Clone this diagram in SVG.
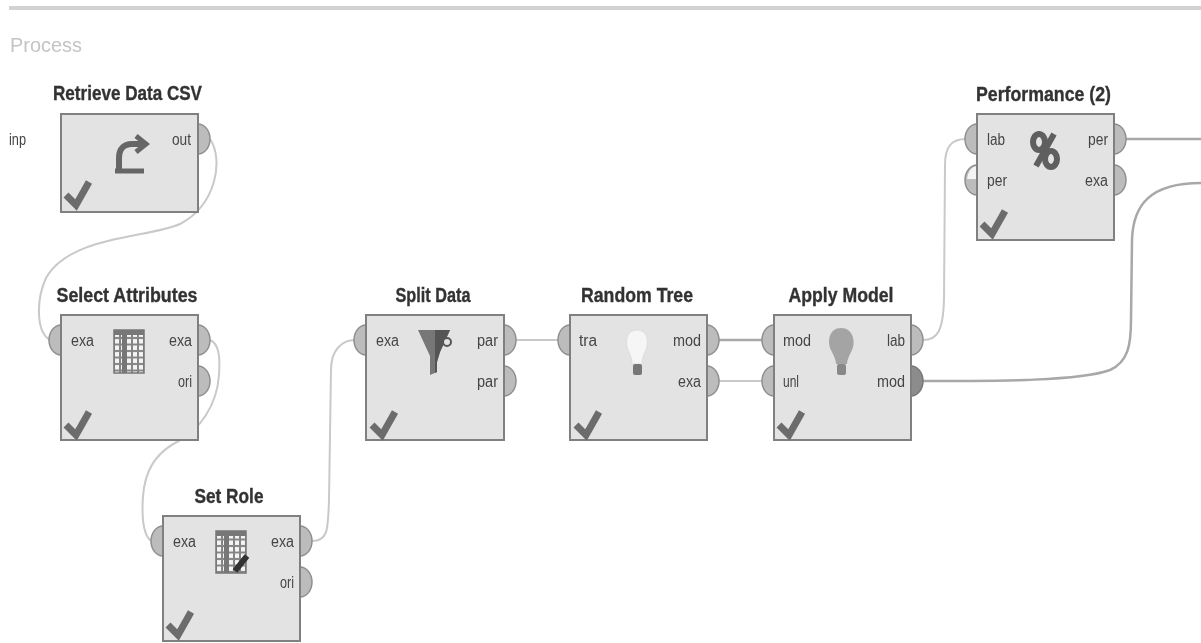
<svg xmlns="http://www.w3.org/2000/svg" xmlns:xlink="http://www.w3.org/1999/xlink" width="1201" height="643" viewBox="0 0 1201 643">
<style>
text{font-family:"Liberation Sans",Arial,sans-serif}
.title{font-size:20px;font-weight:bold;fill:#333;stroke:#333;stroke-width:.35;text-anchor:middle}
.port{font-size:16px;fill:#454545}
.r{text-anchor:end}
.box{fill:#e3e3e3;stroke:#808080;stroke-width:2}
.p{fill:#bcbcbc;stroke:#8f8f8f;stroke-width:1.5}
.c{fill:none;stroke:#c9c9c9;stroke-width:2}
.d{fill:none;stroke:#a8a8a8;stroke-width:2.5}
.ck{fill:none;stroke:#6c6c6c;stroke-width:7}
</style>
<defs>
<filter id="soft" x="-5%" y="-5%" width="110%" height="110%"><feGaussianBlur stdDeviation="0.6"/></filter>
<pattern id="cells" width="6" height="6.500" patternUnits="userSpaceOnUse"><rect width="6" height="6.500" fill="#858585"/><rect x="1" y="1" width="4" height="4.500" fill="#f4f4f4"/></pattern>
<path id="check" class="ck" d="M-10 1L0 11L13 -12"/>
<path id="pr" class="p" d="M0 -15A12 15 0 0 1 0 15Z"/>
<path id="pl" class="p" d="M0 -15A12 15 0 0 0 0 15Z"/>
</defs>
<rect width="1201" height="643" fill="#ffffff"/>
<g filter="url(#soft)">
<rect x="9" y="6" width="1192" height="4" fill="#d2d2d2"/>
<text x="10" y="52" font-size="20" fill="#c4c4c4" textLength="72" lengthAdjust="spacingAndGlyphs">Process</text>
<text x="9" y="145" class="port" textLength="17" lengthAdjust="spacingAndGlyphs">inp</text>
<g id="connectors">
<path class="c" d="M210 139C224 160 216 205 180 224C150 238 70 235 46 278C36 300 36 332 50 340"/>
<path class="c" d="M210 340C220 344 220 360 219 375C217 405 200 430 177 442C150 456 140 480 143 520C144 532 148 540 152 541"/>
<path class="c" d="M312 541C328 541 328 530 329 500L331 370C331 350 342 340 355 340"/>
<path class="c" d="M516 340H559"/>
<path class="d" d="M719 340H763"/>
<path class="c" d="M719 381H763"/>
<path class="c" d="M923 340C938 340 943 330 944 300L945 165C945 146 952 139 966 139"/>
<path class="d" d="M923 381C1000 381 1080 381 1110 370C1128 362 1131 345 1131 320L1132 240C1133 205 1150 183 1201 183"/>
<path class="d" d="M1126 139H1201"/>
</g>
<g id="retrieve-data-csv">
<text x="127.500" y="100" class="title" textLength="149" lengthAdjust="spacingAndGlyphs">Retrieve Data CSV</text>
<use xlink:href="#pr" x="198" y="139"/>
<rect class="box" x="61" y="114" width="137" height="98"/>
<text x="191" y="145" class="port r" textLength="19" lengthAdjust="spacingAndGlyphs">out</text>
<path d="M119 170V158C119 148 125 144 132 144H142" fill="none" stroke="#666" stroke-width="6"/>
<path d="M136 136L146 144L136 152" fill="none" stroke="#666" stroke-width="5"/>
<path d="M115 171H144" stroke="#666" stroke-width="5"/>
<use xlink:href="#check" x="76" y="194"/>
</g>
<g id="select-attributes">
<text x="127" y="302" class="title" textLength="141" lengthAdjust="spacingAndGlyphs">Select Attributes</text>
<use xlink:href="#pl" x="61" y="340"/>
<use xlink:href="#pr" x="198" y="340"/>
<use xlink:href="#pr" x="198" y="381"/>
<rect class="box" x="61" y="315" width="137" height="125"/>
<text x="71" y="346" class="port" textLength="23" lengthAdjust="spacingAndGlyphs">exa</text>
<text x="192" y="346" class="port r" textLength="23" lengthAdjust="spacingAndGlyphs">exa</text>
<text x="192" y="387" class="port r" textLength="14" lengthAdjust="spacingAndGlyphs">ori</text>
<rect x="114" y="330" width="30" height="43" fill="url(#cells)" stroke="#777" stroke-width="1.5"/>
<rect x="114" y="330" width="30" height="5" fill="#777"/>
<rect x="122" y="330" width="5" height="43" fill="#777"/>
<use xlink:href="#check" x="76" y="424"/>
</g>
<g id="set-role">
<text x="229" y="503" class="title" textLength="69" lengthAdjust="spacingAndGlyphs">Set Role</text>
<use xlink:href="#pl" x="163" y="541"/>
<use xlink:href="#pr" x="300" y="541"/>
<use xlink:href="#pr" x="300" y="582"/>
<rect class="box" x="163" y="516" width="137" height="125"/>
<text x="173" y="547" class="port" textLength="23" lengthAdjust="spacingAndGlyphs">exa</text>
<text x="294" y="547" class="port r" textLength="23" lengthAdjust="spacingAndGlyphs">exa</text>
<text x="294" y="588" class="port r" textLength="14" lengthAdjust="spacingAndGlyphs">ori</text>
<rect x="216" y="531" width="30" height="42" fill="url(#cells)" stroke="#777" stroke-width="1.5"/>
<rect x="216" y="531" width="30" height="5" fill="#777"/>
<rect x="224" y="531" width="5" height="42" fill="#777"/>
<path d="M235 571L247 556" stroke="#333" stroke-width="6"/>
<use xlink:href="#check" x="178" y="624"/>
</g>
<g id="split-data">
<text x="433" y="302" class="title" textLength="75" lengthAdjust="spacingAndGlyphs">Split Data</text>
<use xlink:href="#pl" x="366" y="340"/>
<use xlink:href="#pr" x="504" y="340"/>
<use xlink:href="#pr" x="504" y="381"/>
<rect class="box" x="366" y="315" width="138" height="125"/>
<text x="376" y="346" class="port" textLength="23" lengthAdjust="spacingAndGlyphs">exa</text>
<text x="498" y="346" class="port r" textLength="21" lengthAdjust="spacingAndGlyphs">par</text>
<text x="498" y="387" class="port r" textLength="21" lengthAdjust="spacingAndGlyphs">par</text>
<path d="M418 330H450L440 352L437 362V372L430 375V356Z" fill="#777"/>
<path d="M435 330H450L440 352L437 362V372L435 373Z" fill="#555"/>
<circle cx="447" cy="342" r="4" fill="#e3e3e3" stroke="#555" stroke-width="2"/>
<use xlink:href="#check" x="382" y="424"/>
</g>
<g id="random-tree">
<text x="637" y="302" class="title" textLength="112" lengthAdjust="spacingAndGlyphs">Random Tree</text>
<use xlink:href="#pl" x="570" y="340"/>
<use xlink:href="#pr" x="707" y="340"/>
<use xlink:href="#pr" x="707" y="381"/>
<rect class="box" x="570" y="315" width="137" height="125"/>
<text x="579" y="346" class="port" textLength="18" lengthAdjust="spacingAndGlyphs">tra</text>
<text x="701" y="346" class="port r" textLength="28" lengthAdjust="spacingAndGlyphs">mod</text>
<text x="701" y="387" class="port r" textLength="23" lengthAdjust="spacingAndGlyphs">exa</text>
<path d="M637 330C626 330 625 342 628 350C631 356 632 360 632 364H642C642 360 643 356 646 350C649 342 648 330 637 330Z" fill="#f6f6f6" stroke="#ddd"/>
<rect x="633" y="364" width="9" height="11" rx="2" fill="#777"/>
<use xlink:href="#check" x="586" y="424"/>
</g>
<g id="apply-model">
<text x="841" y="302" class="title" textLength="105" lengthAdjust="spacingAndGlyphs">Apply Model</text>
<use xlink:href="#pl" x="774" y="340"/>
<use xlink:href="#pl" x="774" y="381"/>
<use xlink:href="#pr" x="911" y="340"/>
<path d="M911 366A12 15 0 0 1 911 396Z" fill="#8c8c8c" stroke="#777" stroke-width="1.500"/>
<rect class="box" x="774" y="315" width="137" height="125"/>
<text x="783" y="346" class="port" textLength="28" lengthAdjust="spacingAndGlyphs">mod</text>
<text x="783" y="387" class="port" textLength="16" lengthAdjust="spacingAndGlyphs">unl</text>
<text x="905" y="346" class="port r" textLength="18" lengthAdjust="spacingAndGlyphs">lab</text>
<text x="905" y="387" class="port r" textLength="28" lengthAdjust="spacingAndGlyphs">mod</text>
<path d="M841 328C829 328 827 342 831 350C834 356 836 360 836 364H847C847 360 849 356 852 350C856 342 853 328 841 328Z" fill="#a4a4a4"/>
<rect x="837" y="364" width="9" height="11" rx="2" fill="#888"/>
<use xlink:href="#check" x="789" y="424"/>
</g>
<g id="performance-2">
<text x="1043.500" y="101" class="title" textLength="135" lengthAdjust="spacingAndGlyphs">Performance (2)</text>
<use xlink:href="#pl" x="977" y="139"/>
<use xlink:href="#pl" x="977" y="180"/>
<path d="M977 166A11 14 0 0 0 967 179H977Z" fill="#f4f4f4"/>
<use xlink:href="#pr" x="1114" y="139"/>
<use xlink:href="#pr" x="1114" y="180"/>
<rect class="box" x="977" y="114" width="137" height="126"/>
<text x="987" y="145" class="port" textLength="18" lengthAdjust="spacingAndGlyphs">lab</text>
<text x="987" y="186" class="port" textLength="20" lengthAdjust="spacingAndGlyphs">per</text>
<text x="1108" y="145" class="port r" textLength="20" lengthAdjust="spacingAndGlyphs">per</text>
<text x="1108" y="186" class="port r" textLength="23" lengthAdjust="spacingAndGlyphs">exa</text>
<ellipse cx="1039" cy="142" rx="6" ry="8" fill="none" stroke="#5e5e5e" stroke-width="6"/>
<ellipse cx="1051" cy="159" rx="6" ry="8" fill="none" stroke="#5e5e5e" stroke-width="6"/>
<path d="M1054 134L1036 166" stroke="#5e5e5e" stroke-width="6"/>
<use xlink:href="#check" x="992" y="223"/>
</g>
</g>
</svg>
